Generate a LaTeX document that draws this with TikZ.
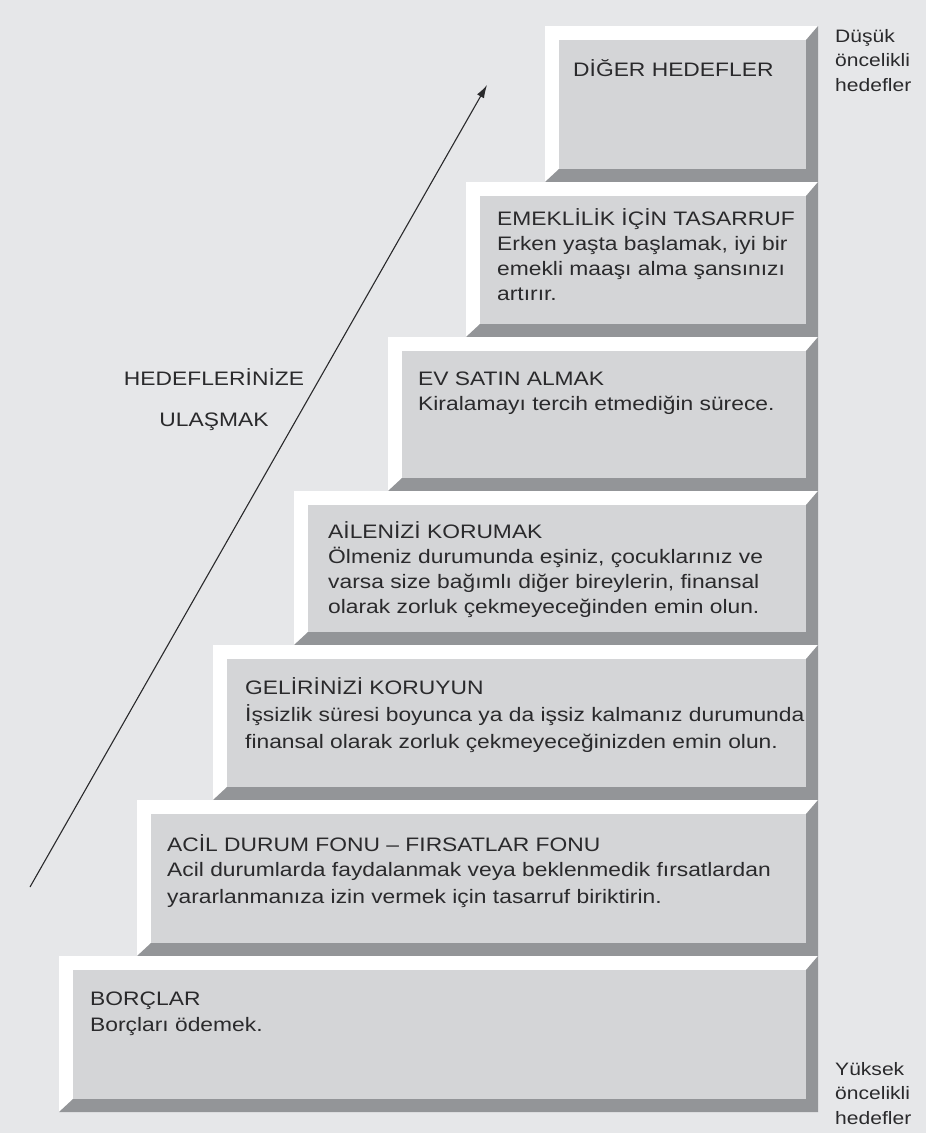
\documentclass[tikz,border=0pt]{standalone}
\usepackage{fontspec}
\setmainfont{Liberation Sans}[FakeStretch=1.17]
\usepackage{tikz}
\usetikzlibrary{arrows.meta}
\definecolor{page gray}{HTML}{E6E7E9}
\definecolor{face gray}{HTML}{D4D5D7}
\definecolor{bevel dark}{HTML}{939598}
\definecolor{ink}{HTML}{2A2A2C}

% one stair: left x, top y, bottom y (right edge is shared)
\newcommand{\bevelbox}[3]{%
	\fill[white] (#1,#2) rectangle (818,#3);
	\fill[bevel dark] (818,#2) -- (818,#3) -- (#1,#3) -- (#1+14,#3-13)
		-- (806,#3-13) -- (806,#2+14) -- cycle;
	\fill[face gray] (#1+14,#2+14) rectangle (806,#3-13);
}

\begin{document}
\begin{tikzpicture}[x=1pt, y=-1pt,
		boxtext/.style = {anchor=base west, inner sep=0pt, align=left, text=ink,
			font=\fontsize{19.5}{25}\selectfont},
		sidetext/.style = {anchor=base west, inner sep=0pt, align=left, text=ink,
			font=\fontsize{18}{24.5}\selectfont}]
		\useasboundingbox (0,0) rectangle (926,1133);
		\fill[page gray] (0,0) rectangle (926,1133);
		% the stairs, top to bottom
		\bevelbox{545}{26}{182}
		\bevelbox{466}{182}{337}
		\bevelbox{388}{337}{491}
		\bevelbox{294}{491}{645}
		\bevelbox{213}{645}{800}
		\bevelbox{137}{800}{956}
		\bevelbox{59}{956}{1112}
		% texts on the stairs (placed at the baseline of the last line)
		\node[boxtext] (other) at (573,76) {DİĞER HEDEFLER};
		\node[boxtext] (retire) at (497,300)
			{EMEKLİLİK İÇİN TASARRUF\\Erken yaşta başlamak, iyi bir\\emekli maaşı alma şansınızı\\artırır.};
		\node[boxtext] (house) at (418,410)
			{EV SATIN ALMAK\\Kiralamayı tercih etmediğin sürece.};
		\node[boxtext] (family) at (328,613)
			{AİLENİZİ KORUMAK\\Ölmeniz durumunda eşiniz, çocuklarınız ve\\varsa size bağımlı diğer bireylerin, finansal\\olarak zorluk çekmeyeceğinden emin olun.};
		\node[boxtext] (income) at (245,748)
			{GELİRİNİZİ KORUYUN\\[2pt]İşsizlik süresi boyunca ya da işsiz kalmanız durumunda\\[2pt]finansal olarak zorluk çekmeyeceğinizden emin olun.};
		\node[boxtext] (fund) at (167,903)
			{ACİL DURUM FONU – FIRSATLAR FONU\\Acil durumlarda faydalanmak veya beklenmedik fırsatlardan\\[2pt]yararlanmanıza izin vermek için tasarruf biriktirin.};
		\node[boxtext] (debts) at (90,1031) {BORÇLAR\\[1pt]Borçları ödemek.};
		% side labels
		\node[sidetext] (low) at (835,91) {Düşük\\öncelikli\\hedefler};
		\node[sidetext] (high) at (835,1124) {Yüksek\\öncelikli\\hedefler};
		\node[boxtext, anchor=base, align=center] (reach) at (214,426)
			{HEDEFLERİNİZE\\[16pt]ULAŞMAK};
		% arrow
		\coordinate (arrow start) at (30,887);
		\coordinate (arrow end) at (487,85);
		\draw[ink, line width=1.1pt, -{Latex[length=13pt,width=8pt]}] (arrow start) -- (arrow end);
	\end{tikzpicture}
\end{document}
